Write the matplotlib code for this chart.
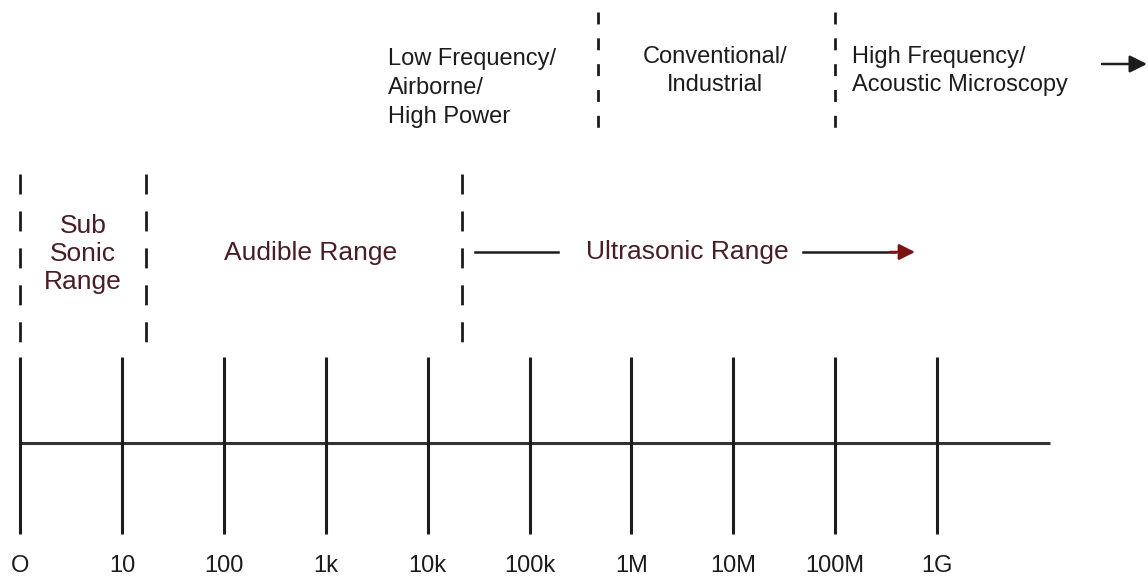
import matplotlib.pyplot as plt

plt.rcParams['font.family'] = ['Liberation Sans', 'DejaVu Sans']

# decades on the frequency axis (tick index 0..9)
tick_labels = ["O", "10", "100", "1k", "10k", "100k", "1M", "10M", "100M", "1G"]
tick_pos = list(range(len(tick_labels)))

# range boundaries (in decade units)
lower_bounds = [0.0, 1.24, 4.34]
upper_bounds = [5.67, 8.0]

range_labels = ["Sub\nSonic\nRange", "Audible Range", "Ultrasonic Range"]
range_x = [0.62, 2.85, 6.55]
app_labels = ["Low Frequency/\nAirborne/\nHigh Power", "Conventional/\nIndustrial",
              "High Frequency/\nAcoustic Microscopy"]

px = 101.9  # pixels per decade


def dx(p):
    # pixel column -> decade units
    return (p - 20) / px


fig = plt.figure(figsize=(11.48, 5.82), dpi=100)
ax = fig.add_axes([0, 0, 1, 1])
ax.set_xlim(dx(0), dx(1148))
ax.set_ylim(582, 0)
ax.axis('off')

dark = "#1c1c1c"
maroon = "#4a1d24"

# main axis line and ticks
ax.plot([0, dx(1050)], [443, 443], color="#333333", lw=2.2, solid_capstyle='butt')
for x, lab in zip(tick_pos, tick_labels):
    ax.plot([x, x], [357, 534], color=dark, lw=2.2, solid_capstyle='butt')
    ax.text(x, 566, lab, ha='center', va='center', fontsize=17, color=dark)

# dashed boundaries of sonic ranges
for b in lower_bounds:
    ax.plot([b, b], [174, 345], color=dark, lw=2, linestyle=(0, (7.2, 6.1)))

# dashed boundaries of application ranges
for b in upper_bounds:
    ax.plot([b, b], [12, 133], color=dark, lw=2, linestyle=(0, (4.3, 5.0)))

# range labels
ax.text(range_x[0], 254, range_labels[0], ha='center', va='center', fontsize=19,
        color=maroon, linespacing=1.2)
ax.text(range_x[1], 253, range_labels[1], ha='center', va='center', fontsize=19, color=maroon)
ax.text(range_x[2], 252, range_labels[2], ha='center', va='center', fontsize=19, color=maroon)

# ultrasonic arrows
ax.plot([dx(475), dx(558)], [252, 252], color=dark, lw=1.8)
ax.plot([dx(803), dx(895)], [252, 252], color=dark, lw=1.8)
ax.annotate("", xy=(dx(915), 252), xytext=(dx(890), 252),
            arrowprops=dict(arrowstyle='-|>', color="#7a1414", lw=1.8, mutation_scale=24,
                            shrinkA=0, shrinkB=0))

# application labels
ax.text(dx(388), 88, app_labels[0], ha='left', va='center', fontsize=17,
        color=dark, linespacing=1.4)
ax.text(dx(715), 71, app_labels[1], ha='center', va='center', fontsize=17,
        color=dark, linespacing=1.4, multialignment='center')
ax.text(dx(852), 71, app_labels[2], ha='left', va='center', fontsize=17,
        color=dark, linespacing=1.4)

# arrow at top right
ax.annotate("", xy=(dx(1147), 64), xytext=(dx(1102), 64),
            arrowprops=dict(arrowstyle='-|>', color=dark, lw=1.8, mutation_scale=26,
                            shrinkA=0, shrinkB=0))

fig.savefig("out.png", dpi=100)
